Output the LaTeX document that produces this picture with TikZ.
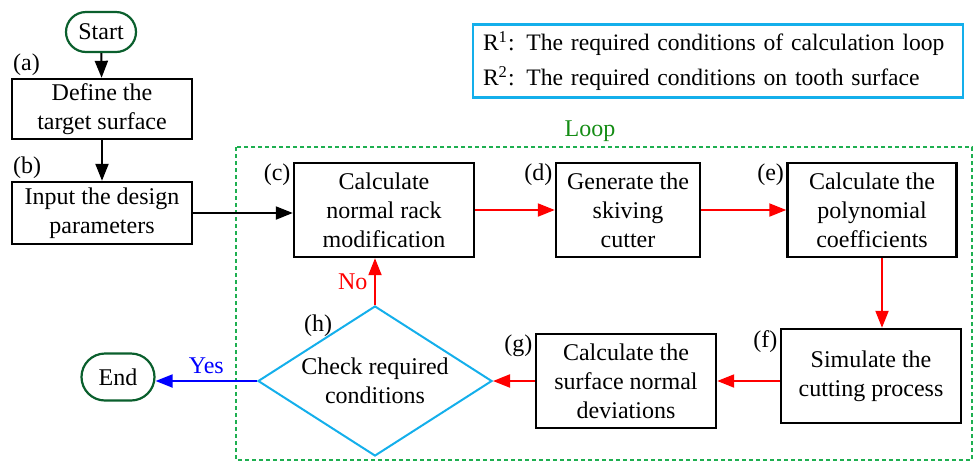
\documentclass[tikz,border=0pt]{standalone}
\usepackage{fontspec}
\setmainfont{Liberation Serif}
\usetikzlibrary{shapes.geometric, shapes.misc, arrows.meta, positioning}
\definecolor{TermGreen}{RGB}{10,95,45}
\definecolor{LoopGreen}{RGB}{30,175,80}
\definecolor{LoopText}{RGB}{20,140,20}
\definecolor{CheckBlue}{RGB}{20,175,235}

\begin{document}
\begin{tikzpicture}[
    x=0.5pt, y=-0.5pt,
    font=\fontsize{12}{14.5}\selectfont,
    term/.style={draw=TermGreen, line width=1.1pt, rounded rectangle, minimum width=37pt, minimum height=20pt, inner sep=1pt},
    box/.style={draw, line width=1.2pt, align=center, minimum width=90pt, minimum height=47pt, inner sep=1pt},
    check/.style={draw=CheckBlue, line width=1pt, diamond, minimum width=117pt, minimum height=75pt, inner sep=0pt},
    legend/.style={draw=CheckBlue, line width=1.2pt, align=left, text width=235pt, inner xsep=5pt, minimum height=36pt, font=\fontsize{11.8}{17.5}\selectfont},
    tag/.style={inner sep=1pt},
    arrow/.style={-{Triangle[length=8.5pt,width=6.5pt]}, line width=1pt},
    redarrow/.style={arrow, red},
    frame/.style={draw=LoopGreen, line width=1pt, dash pattern=on 2pt off 1.5pt}
]
    \useasboundingbox (0,0) rectangle (974,462);

    % start and input column
    \node[term] (start) at (101,32) {Start};
    \node[box, minimum height=30pt] (define) at (102,109) {Define the\\target surface};
    \node[box, minimum height=31pt] (input) at (102,213) {Input the design\\parameters};
    \node[tag, anchor=south west] at (define.north west) {(a)};
    \node[tag, anchor=south west] at (input.north west) {(b)};

    % loop
    \draw[frame] (236,147) rectangle (972,460);
    \node[text=LoopText] (looplabel) at (590,131) {Loop};

    \node[box] (calc) at (384,210) {Calculate\\normal rack\\modification};
    \node[box, minimum width=72pt] (cutter) at (628,210) {Generate the\\skiving\\cutter};
    \node[box, minimum width=84.5pt] (coeff) at (872,210) {Calculate the\\polynomial\\coefficients};
    \node[box] (simulate) at (871,376) {Simulate the\\cutting process};
    \node[box] (deviation) at (626,381) {Calculate the\\surface normal\\deviations};
    \node[check, label={[align=center]center:Check required\\conditions}] (check) at (375,381) {};
    \node[term, minimum width=38.5pt, minimum height=23.5pt] (end) at (118,377) {End};

    \node[tag, anchor=north east] at (calc.north west) {(c)};
    \node[tag, anchor=north east] at (cutter.north west) {(d)};
    \node[tag, anchor=north east] at (coeff.north west) {(e)};
    \node[tag, anchor=north east] at (simulate.north west) {(f)};
    \node[tag, anchor=north east] at (deviation.north west) {(g)};
    \node[tag] (htag) at (318,326) {(h)};

    % legend
    \node[legend] (legend) at (718,61) {R\textsuperscript{1}: The required conditions of calculation loop\\R\textsuperscript{2}: The required conditions on tooth surface};

    \draw[arrow] (start) -- (define);
    \draw[arrow] (define) -- (input);
    \draw[arrow] (input.east) -- (input.east -| calc.west);
    \draw[redarrow] (calc) -- (cutter);
    \draw[redarrow] (cutter) -- (coeff);
    \draw[redarrow] ([xshift=5pt]coeff.south) -- ([xshift=5pt]coeff.south |- simulate.north);
    \draw[redarrow] (simulate.west |- deviation.east) -- (deviation.east);
    \draw[redarrow] (deviation.west) -- (check.east);
    \draw[redarrow] (check.north) -- (check.north |- calc.south) node[midway, left, red] {No};
    \draw[arrow, blue] (check.west) -- (check.west -| end.east) node[midway, above, blue] {Yes};
\end{tikzpicture}
\end{document}
